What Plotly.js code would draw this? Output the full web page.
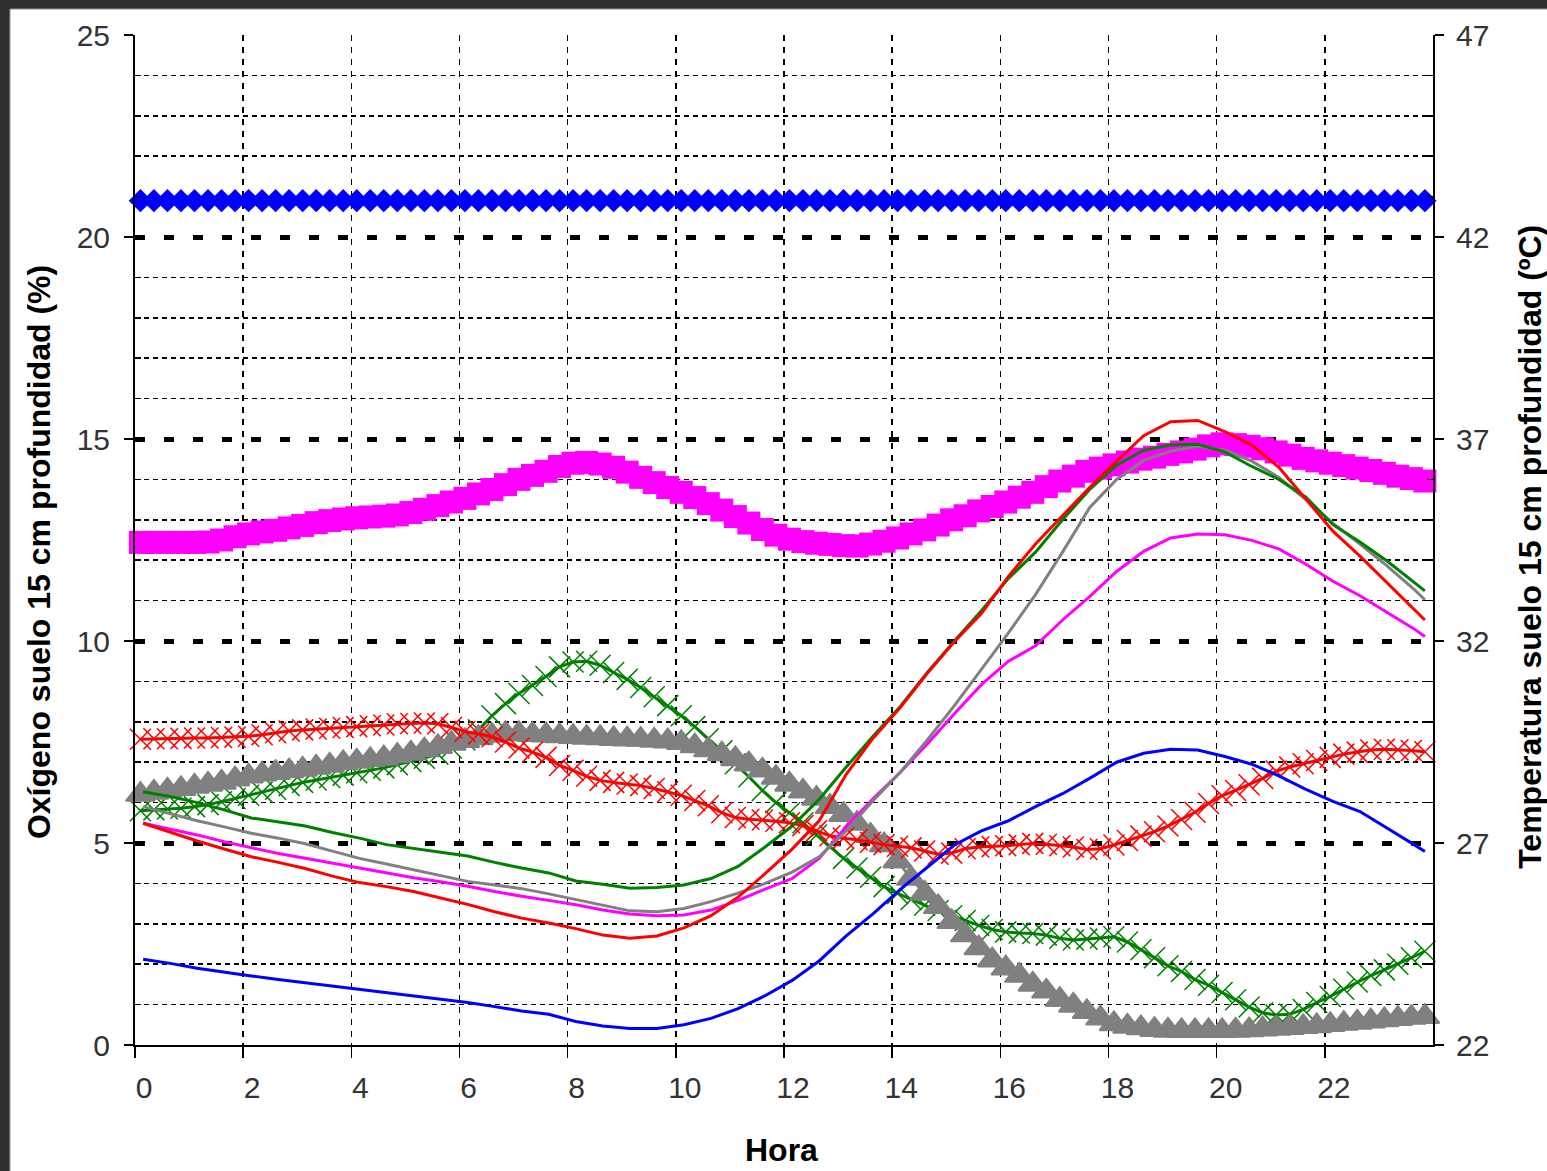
<!DOCTYPE html>
<html>
<head>
<meta charset="utf-8">
<script src="https://cdn.plot.ly/plotly-3.0.1.min.js"></script>
<style>html,body{margin:0;padding:0;background:#303030;}#chart{width:1547px;height:1171px;}</style>
</head>
<body>
<div id="chart"></div>
<script>
// Time (hours) of the oxygen readings, every 15 min
const hora = [0.1,0.35,0.6,0.85,1.1,1.35,1.6,1.85,2.1,2.35,2.6,2.85,3.1,3.35,3.6,3.85,4.1,4.35,4.6,4.85,5.1,5.35,5.6,5.85,6.1,6.35,6.6,6.85,7.1,7.35,7.6,7.85,8.1,8.35,8.6,8.85,9.1,9.35,9.6,9.85,10.1,10.35,10.6,10.85,11.1,11.35,11.6,11.85,12.1,12.35,12.6,12.85,13.1,13.35,13.6,13.85,14.1,14.35,14.6,14.85,15.1,15.35,15.6,15.85,16.1,16.35,16.6,16.85,17.1,17.35,17.6,17.85,18.1,18.35,18.6,18.85,19.1,19.35,19.6,19.85,20.1,20.35,20.6,20.85,21.1,21.35,21.6,21.85,22.1,22.35,22.6,22.85,23.1,23.35,23.6,23.85];

// Oxygen (%) series, left axis
const oxAzul = [20.9,20.9,20.9,20.9,20.9,20.9,20.9,20.9,20.9,20.9,20.9,20.9,20.9,20.9,20.9,20.9,20.9,20.9,20.9,20.9,20.9,20.9,20.9,20.9,20.9,20.9,20.9,20.9,20.9,20.9,20.9,20.9,20.9,20.9,20.9,20.9,20.9,20.9,20.9,20.9,20.9,20.9,20.9,20.9,20.9,20.9,20.9,20.9,20.9,20.9,20.9,20.9,20.9,20.9,20.9,20.9,20.9,20.9,20.9,20.9,20.9,20.9,20.9,20.9,20.9,20.9,20.9,20.9,20.9,20.9,20.9,20.9,20.9,20.9,20.9,20.9,20.9,20.9,20.9,20.9,20.9,20.9,20.9,20.9,20.9,20.9,20.9,20.9,20.9,20.9,20.9,20.9,20.9,20.9,20.9,20.9];
const oxMagenta = [12.44,12.44,12.44,12.44,12.44,12.45,12.5,12.58,12.65,12.7,12.74,12.8,12.86,12.93,12.98,13.02,13.05,13.07,13.09,13.12,13.18,13.26,13.35,13.44,13.53,13.64,13.75,13.87,14.0,14.1,14.2,14.32,14.4,14.42,14.38,14.3,14.18,14.05,13.92,13.8,13.68,13.55,13.4,13.24,13.08,12.92,12.76,12.62,12.52,12.46,12.42,12.39,12.36,12.35,12.4,12.47,12.55,12.65,12.75,12.87,13.0,13.1,13.22,13.33,13.44,13.56,13.68,13.82,13.96,14.08,14.2,14.28,14.36,14.43,14.5,14.55,14.62,14.68,14.75,14.83,14.88,14.86,14.82,14.76,14.68,14.6,14.52,14.46,14.4,14.34,14.28,14.22,14.15,14.08,14.02,13.96];
const oxVerde = [5.8,5.82,5.84,5.86,5.9,5.95,6.02,6.1,6.18,6.26,6.33,6.42,6.5,6.56,6.62,6.68,6.74,6.8,6.86,6.94,7.02,7.1,7.2,7.35,7.55,7.8,8.15,8.45,8.7,8.9,9.12,9.36,9.48,9.5,9.4,9.22,9.05,8.85,8.62,8.4,8.15,7.88,7.58,7.28,6.96,6.64,6.3,6.0,5.75,5.5,5.2,4.92,4.62,4.38,4.15,3.92,3.75,3.6,3.46,3.33,3.2,3.08,2.96,2.86,2.8,2.77,2.76,2.72,2.64,2.6,2.62,2.65,2.68,2.55,2.36,2.16,1.96,1.82,1.62,1.48,1.3,1.12,0.94,0.8,0.74,0.76,0.88,1.05,1.2,1.38,1.56,1.72,1.86,2.0,2.16,2.32];
const oxGris = [6.2,6.25,6.3,6.34,6.4,6.45,6.5,6.58,6.65,6.7,6.74,6.78,6.82,6.87,6.92,6.98,7.02,7.06,7.1,7.16,7.22,7.3,7.38,7.46,7.53,7.6,7.66,7.7,7.7,7.68,7.67,7.65,7.63,7.61,7.6,7.58,7.57,7.56,7.54,7.52,7.48,7.4,7.3,7.2,7.08,6.95,6.8,6.62,6.45,6.28,6.1,5.9,5.7,5.48,5.18,4.95,4.55,4.12,3.75,3.42,3.05,2.72,2.4,2.1,1.9,1.72,1.5,1.33,1.12,0.98,0.82,0.66,0.52,0.46,0.42,0.38,0.36,0.35,0.35,0.35,0.35,0.36,0.37,0.39,0.41,0.43,0.45,0.47,0.5,0.53,0.56,0.59,0.62,0.65,0.68,0.7];
const oxRojo = [7.57,7.58,7.58,7.59,7.6,7.6,7.61,7.62,7.64,7.68,7.73,7.77,7.8,7.82,7.84,7.86,7.88,7.9,7.92,7.95,7.96,7.97,7.95,7.86,7.76,7.7,7.63,7.5,7.35,7.25,7.12,6.92,6.8,6.65,6.55,6.5,6.46,6.42,6.35,6.27,6.18,6.05,5.92,5.75,5.63,5.59,5.57,5.54,5.5,5.43,5.3,5.18,5.12,5.08,5.02,4.96,4.92,4.88,4.8,4.72,4.75,4.86,4.9,4.91,4.93,4.96,4.99,4.97,4.93,4.9,4.84,4.86,4.95,5.06,5.17,5.28,5.42,5.58,5.76,5.98,6.17,6.3,6.44,6.6,6.78,6.88,6.96,7.04,7.12,7.2,7.25,7.3,7.32,7.31,7.29,7.26];

// Time (hours) of the temperature readings, every 30 min
const horaT = [0.15,0.65,1.15,1.65,2.15,2.65,3.15,3.65,4.15,4.65,5.15,5.65,6.15,6.65,7.15,7.65,8.15,8.65,9.15,9.65,10.15,10.65,11.15,11.65,12.15,12.65,13.15,13.65,14.15,14.65,15.15,15.65,16.15,16.65,17.15,17.65,18.15,18.65,19.15,19.65,20.15,20.65,21.15,21.65,22.15,22.65,23.15,23.65,23.85];

// Temperature (ºC) series, right axis
const tAzul = [24.12,24.02,23.9,23.8,23.71,23.62,23.54,23.46,23.38,23.3,23.22,23.14,23.05,22.95,22.84,22.76,22.58,22.47,22.41,22.41,22.5,22.66,22.9,23.22,23.6,24.08,24.7,25.25,25.85,26.4,26.95,27.3,27.55,27.9,28.22,28.6,29.0,29.22,29.32,29.3,29.14,28.95,28.66,28.33,28.03,27.78,27.38,26.96,26.79];
const tRojo = [27.49,27.27,27.05,26.85,26.66,26.52,26.37,26.18,26.02,25.92,25.8,25.64,25.48,25.3,25.14,25.02,24.88,24.72,24.64,24.7,24.9,25.2,25.66,26.24,26.85,27.55,28.7,29.6,30.35,31.2,31.98,32.68,33.6,34.4,35.1,35.8,36.45,37.08,37.43,37.46,37.18,36.85,36.3,35.52,34.72,34.1,33.45,32.8,32.52];
const tVerde = [28.27,28.15,28.0,27.82,27.62,27.52,27.42,27.26,27.12,26.96,26.86,26.77,26.68,26.52,26.38,26.26,26.06,25.98,25.88,25.9,25.96,26.12,26.42,26.9,27.42,28.08,28.88,29.65,30.38,31.22,32.0,32.75,33.55,34.2,35.0,35.75,36.35,36.72,36.85,36.87,36.68,36.32,36.0,35.56,34.88,34.45,33.98,33.45,33.24];
const tGris = [27.9,27.72,27.55,27.4,27.24,27.12,26.98,26.8,26.62,26.48,26.34,26.2,26.05,25.96,25.87,25.74,25.6,25.45,25.32,25.3,25.38,25.55,25.76,26.0,26.28,26.66,27.3,28.05,28.75,29.55,30.4,31.3,32.2,33.15,34.2,35.3,36.0,36.47,36.7,36.82,36.72,36.45,36.05,35.5,34.91,34.4,33.86,33.28,33.02];
const tMagenta = [27.49,27.35,27.2,27.03,26.88,26.74,26.62,26.5,26.38,26.25,26.14,26.04,25.93,25.8,25.68,25.58,25.47,25.34,25.24,25.2,25.22,25.34,25.58,25.86,26.12,26.62,27.4,28.1,28.75,29.45,30.2,30.92,31.5,31.88,32.52,33.1,33.72,34.22,34.55,34.65,34.63,34.49,34.28,33.9,33.48,33.12,32.72,32.3,32.11];

// Tick positions / labels
const xTicks = [0,2,4,6,8,10,12,14,16,18,20,22];
const oxMajor = [0,5,10,15,20,25];
const oxMinor = [1,2,3,4,6,7,8,9,11,12,13,14,16,17,18,19,21,22,23,24];
const tMajor = [22,27,32,37,42,47];
const tMinor = [23,24,25,26,28,29,30,31,33,34,35,36,38,39,40,41,43,44,45,46];

const xMark = (c) => ({symbol: 'x-thin-open', size: 21, line: {color: c, width: 1.5}});

const traces = [
  {x: hora, y: oxAzul, mode: 'lines+markers', line: {color: '#0000FF', width: 3},
   marker: {symbol: 'diamond', size: 18, color: '#0000FF'}, cliponaxis: false},
  {x: hora, y: oxMagenta, mode: 'lines+markers', line: {color: '#FF00FF', width: 3},
   marker: {symbol: 'square', size: 23, color: '#FF00FF'}, cliponaxis: false},
  {x: hora, y: oxVerde, mode: 'lines+markers', line: {color: '#008000', width: 3},
   marker: xMark('#008000'), cliponaxis: false},
  {x: hora, y: oxGris, mode: 'lines+markers', line: {color: '#808080', width: 3},
   marker: {symbol: 'triangle-up', size: 25, color: '#808080', line: {color: '#808080', width: 2}}, cliponaxis: false},
  {x: hora, y: oxRojo, mode: 'lines+markers', line: {color: '#FF0000', width: 3},
   marker: xMark('#FF0000'), cliponaxis: false},
  {x: horaT, y: tMagenta, yaxis: 'y2', mode: 'lines', line: {color: '#FF00FF', width: 3}},
  {x: horaT, y: tGris, yaxis: 'y2', mode: 'lines', line: {color: '#808080', width: 3}},
  {x: horaT, y: tVerde, yaxis: 'y2', mode: 'lines', line: {color: '#008000', width: 3}},
  {x: horaT, y: tRojo, yaxis: 'y2', mode: 'lines', line: {color: '#FF0000', width: 3}},
  {x: horaT, y: tAzul, yaxis: 'y2', mode: 'lines', line: {color: '#0000FF', width: 3}}
];

const tickFont = {family: 'Liberation Sans, Arial, sans-serif', size: 30, color: '#333'};
const titleFont = {family: 'Liberation Sans, Arial, sans-serif', size: 32, color: '#000'};

const layout = {
  width: 1547, height: 1171,
  margin: {l: 135, r: 114, t: 35, b: 126, pad: 0},
  paper_bgcolor: '#303030',
  plot_bgcolor: '#FFFFFF',
  showlegend: false,
  xaxis: {
    range: [0, 24], tickvals: xTicks, ticktext: xTicks.map(String),
    showgrid: true, gridcolor: '#000', gridwidth: 1.5, griddash: '6px,6px',
    showline: true, linecolor: '#000', linewidth: 2,
    ticks: 'outside', ticklen: 11, tickwidth: 1.5, tickcolor: '#000',
    tickfont: tickFont, ticklabelshift: 9, ticklabelstandoff: 4,
    zeroline: false, fixedrange: true
  },
  yaxis: {
    range: [0, 25], tickvals: oxMajor, ticktext: oxMajor.map(String),
    showgrid: true, gridcolor: '#000', gridwidth: 5, griddash: '10px,19px',
    minor: {tickvals: oxMinor, showgrid: true, gridcolor: '#000', gridwidth: 1.5, griddash: '5px,4px',
            ticks: 'inside', ticklen: 6, tickcolor: '#000', tickwidth: 1.5},
    showline: true, linecolor: '#000', linewidth: 2,
    ticks: 'outside', ticklen: 9, tickwidth: 2, tickcolor: '#000',
    tickfont: tickFont, ticklabelstandoff: 8,
    zeroline: false, fixedrange: true
  },
  yaxis2: {
    overlaying: 'y', side: 'right', range: [22, 47], tickvals: tMajor, ticktext: tMajor.map(String),
    showgrid: false,
    minor: {tickvals: tMinor, showgrid: false, ticks: 'inside', ticklen: 6, tickcolor: '#000', tickwidth: 1.5},
    showline: true, linecolor: '#000', linewidth: 2,
    ticks: 'outside', ticklen: 9, tickwidth: 2, tickcolor: '#000',
    tickfont: tickFont, ticklabelstandoff: 6,
    zeroline: false, fixedrange: true
  },
  shapes: [
    {type: 'rect', xref: 'paper', yref: 'paper', layer: 'below',
     x0: -0.0963, x1: 1.09, y0: -0.13, y1: 1.0257,
     fillcolor: '#FFFFFF', line: {width: 1, color: '#9a9a9a'}}
  ],
  annotations: [
    {text: '<b>Oxígeno suelo 15 cm profundidad (%)</b>', xref: 'paper', yref: 'paper',
     x: -0.074, y: 0.488, textangle: -90, showarrow: false, font: titleFont,
     xanchor: 'center', yanchor: 'middle'},
    {text: '<b>Temperatura suelo 15 cm profundidad (ºC)</b>', xref: 'paper', yref: 'paper',
     x: 1.075, y: 0.4936, textangle: -90, showarrow: false, font: titleFont,
     xanchor: 'center', yanchor: 'middle'},
    {text: '<b>Hora</b>', xref: 'paper', yref: 'paper',
     x: 0.4977, y: -0.104, showarrow: false, font: titleFont,
     xanchor: 'center', yanchor: 'middle'}
  ]
};

Plotly.newPlot('chart', traces, layout, {staticPlot: true, displayModeBar: false});
</script>
</body>
</html>
